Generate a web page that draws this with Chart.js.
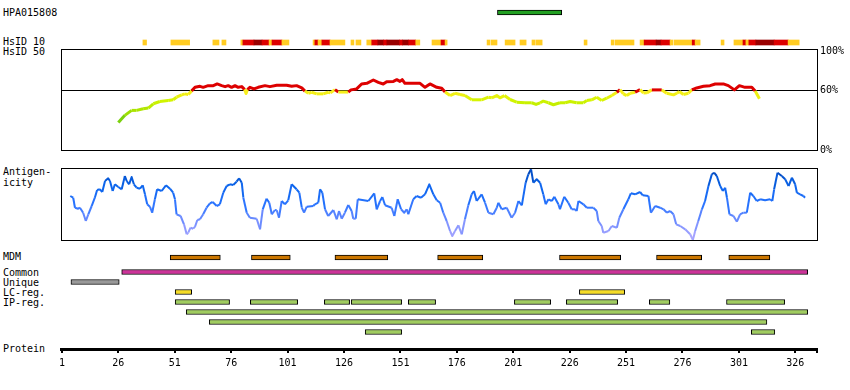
<!DOCTYPE html>
<html><head><meta charset="utf-8">
<script src="https://cdn.jsdelivr.net/npm/chart.js@4.4.1/dist/chart.umd.min.js"></script>
<style>
html,body{margin:0;padding:0;background:#fff;}
body{width:850px;height:390px;position:relative;overflow:hidden;}
canvas{position:absolute;left:0;}
.lbl{position:absolute;left:3px;font:10px/12px "DejaVu Sans Mono",monospace;color:#000;white-space:pre;}
</style></head><body>
<div class="lbl" style="top:7px">HPA015808</div>
<div class="lbl" style="top:36px">HsID 10</div>
<div class="lbl" style="top:46px">HsID 50</div>
<div class="lbl" style="top:166px">Antigen-</div>
<div class="lbl" style="top:177px">icity</div>
<div class="lbl" style="top:251px">MDM</div>
<div class="lbl" style="top:267px">Common</div>
<div class="lbl" style="top:277px">Unique</div>
<div class="lbl" style="top:287px">LC-reg.</div>
<div class="lbl" style="top:297px">IP-reg.</div>
<div class="lbl" style="top:343px">Protein</div>

<canvas id="cHpa" width="850" height="11" style="top:7px"></canvas>
<canvas id="cHs" width="850" height="11" style="top:37px"></canvas>
<canvas id="cId" width="850" height="120" style="top:40px"></canvas>
<canvas id="cAg" width="850" height="80" style="top:164px"></canvas>
<canvas id="cMdm" width="850" height="11" style="top:252px"></canvas>
<canvas id="cFeat" width="850" height="70" style="top:267px"></canvas>
<canvas id="cAxis" width="850" height="90" style="top:300px"></canvas>
<script>
// ---------- data ----------
const xMin = 0.6, xMax = 335.6;
const axisTicks = [1, 26, 51, 76, 101, 126, 151, 176, 201, 226, 251, 276, 301, 326];
const identTicks = [0, 60, 100];
const identRef = 60;

const hpaName = 'HPA015808';
const hpaRange = [194, 222.5];

// HsID 10 blocks: level 0 = yellow, 1 = red, 2 = dark red
const hsStart = [36.9,49.3,67.9,71.9,80.3,81.2,86.1,89.7,92.8,94.1,98.5,112.3,113.1,114.5,116.2,119.8,129.1,131.3,136.1,138.3,141,143.6,145,150.7,152,154.7,157.8,165,169,170.8,189.4,191.2,197.4,204,209.3,211.1,232.4,244.4,246.2,257.2,259,264.3,266.5,270.5,272.3,280.3,281.6,293.1,298.8,302.8,304.1,305.4,308.5,316.6,322.8];
const hsEnd   = [38.5,57.6,70.6,73.7,81.2,86.1,89.7,92.8,94.1,98.5,101.6,113.1,114.5,116.2,119.8,126.4,130.4,133.5,138.3,141,143.6,145,150.7,152,154.7,157.8,159.6,169,170.8,171.7,190.7,193.8,201.8,206.7,210.7,213.8,233.7,245.7,254.5,259,264.3,266.5,270.5,271.8,280.3,281.6,283.8,294.4,302.8,304.1,305.4,308.5,316.6,322.8,327.7];
const hsLevel = [0,0,0,0,0,1,2,1,0,1,0,0,1,0,1,0,0,0,0,1,2,1,2,1,2,1,0,0,1,0,0,0,0,0,0,0,0,0,0,0,1,2,1,0,0,1,0,0,0,1,0,1,2,1,0];

// HsID 50 identity (%)
const idPos = [26,28.9,31.9,34.1,37,39.3,41.5,44.4,48.1,50.3,51.8,54.1,55.5,57,58.5,60,62.2,63.6,65.8,68.1,69.8,71.8,73.3,74.7,76.2,77.7,79.1,80.7,82,82.6,83.2,84.3,86.1,88,91,93.2,96.2,100.6,102.8,105,107.3,108.7,110.2,111.7,113.9,116.8,119,120,122,123.5,127.9,129.1,131.6,133.8,136.1,139,141.2,143.4,144.9,147.9,149.4,150.8,151.8,153,156,159.7,161.9,164.1,167.1,169.3,170.8,173,175.2,177.4,179.6,182.6,187,190,191.5,193.7,195.1,197.1,199.6,202.5,206.2,209.2,211.1,212.9,214.3,216.6,218.8,221.7,224,226.2,229.1,232.1,233.6,235.8,238,240.2,242.4,244.7,246.9,248.3,249.8,251.3,252.8,255,257.2,258.7,260.2,262.4,266.8,269,272,273.5,274.6,276.4,278.6,280.1,282.3,285.3,288.2,290.5,294.1,296.3,299,301.2,303.7,306.7,308.2,310.1];
const idVal = [27.7,35,40,40,41.7,42.3,46.7,49,50,50.7,53.3,55.7,56.7,56,59.7,63.3,64.3,63.3,65,65,66.7,65,64,65,63.3,65,63.3,64,61,57,61,63.3,61.7,63.3,65,64,65.3,65.3,64.3,65,62.7,59.5,57.3,58.3,56.7,56.7,58.3,57.7,61,58.5,58.5,60.7,61.7,66.7,67.3,70.7,68.3,66.7,69,69.3,71,69.3,71,67.3,67.3,67.3,63.3,66.7,63.3,62.3,58.5,55,57.3,56,55,50.7,50.7,53.3,52.7,55,52.7,55,51,48.3,47.7,47.7,46,47.7,49.3,47.7,45.7,47.7,47.7,49,47.7,47.7,50,50.7,53.3,50,52.3,55,58.3,61,56.7,55,57.3,58.3,61,57.5,57.7,60.7,60.7,57.3,55.7,57.3,59,56,57.3,60.7,62.7,64.3,65,66.7,66.7,65,60.7,65,63.3,63.3,59.5,51.7];

// Antigenicity
const agPos = [4.7,6.0,6.8,8.2,9.0,10.4,11.6,12.7,14.2,15.6,16.6,17.8,18.9,20.1,21.5,22.3,23.5,24.5,26,27.5,
  28.9,29.7,30.8,31.9,32.9,34.1,35.6,36.8,37.8,38.8,40,41,42.2,43.2,45.2,47.1,48.9,50.3,51.1,51.8,
  53.6,55.1,56.3,57,58,59.2,60,61,62.2,63.6,65.1,66.6,67.8,69.6,71,72.5,74,75.5,76.9,78.4,
  79.5,80.7,81.4,82.9,84.3,87.3,88.8,90,91.7,92.9,94,95.4,96.2,97.2,98.4,99.8,101.3,102.8,105,106.2,
  107.3,108.3,109.5,112.4,113.1,114.6,115.4,116.4,117.6,119,121.3,122.8,123.8,125,126.4,127.9,129.4,130.1,131.2,132.1,
  136.8,139.4,140.5,142,143,144.2,147.1,148.3,149.8,151.3,152.7,153.8,154.5,156.7,158.2,160.1,161.9,163.8,165.6,167.1,
  168.6,170,171.5,173,174,175.2,176.7,178.2,179.6,181.1,182.6,183.6,184.8,187,188.5,190,192.2,193.7,194.4,195.9,
  198.1,200.3,201.8,203.3,204.8,206.5,207.7,208.9,209.9,211.4,212.9,214.3,215.4,216.6,218.1,219.2,221,221.7,223.6,225.4,
  226.9,228.4,229.1,229.9,232.1,233.6,236.5,238,238.7,240.2,240.9,243.2,244.7,246.9,248,249.8,252,253.1,255,257.2,
  258.4,260.9,262,263.9,266.1,267.6,269.1,270.5,272,273.2,275,277.2,279.4,280.6,281.6,283,284.6,286,287.5,289,
  290,291.2,292.7,293.9,294.9,295.7,296.8,298.6,300.1,301.5,303,304.5,306,307.4,308.9,310.4,312.6,314.8,315.8,316.6,
  318.1,320,321.5,323,324.5,325.9,326.7,328.1,329.6,330.3];
const agVal = [44,42.3,32.3,31.3,32.3,27.3,19,25.7,34,42.3,50,50.7,48,59,61.7,59,49,55.7,53,50.7,
  64,59,55.7,63,55.7,52.3,51.3,54.7,45.7,35.7,33.3,27.3,40.7,50.7,49,54.7,51.3,47.3,40.7,25.7,
  24,15.7,5.7,7.3,12.3,11.3,13.3,20,20.7,25.7,32.3,36.7,38,34,35.7,47.3,54,55.7,55,58.3,
  61.7,57.3,42.3,27.3,22.3,21.3,10.7,30.7,41.3,37.3,25.7,30,29.7,22.3,39,35.7,39.7,55.7,50.7,47.3,
  32.3,27.3,33.3,34,35.7,37.3,50.7,47.3,30.7,24,30,20.7,29,21.3,27.3,35,29,21.3,21.3,40.7,
  39,46.7,30.7,39,43,34.7,32.3,24,40.7,30.7,27.3,30.7,25.7,40.7,44,42.3,45.7,55.7,45.7,39.7,
  37.3,27.3,19,9,4,9,14.7,5.7,20.7,34.7,45.7,49,39,45.7,37.3,27.3,25.7,32.3,37.3,30.7,
  32.3,22.3,27.3,39,34.7,57.3,65.7,70.7,57.3,60.7,57.3,45.7,35.7,40.7,39,43.3,35.7,30.7,43.3,37.3,
  30.7,30.7,29,39,35.7,32.3,32.3,29,19,14,7.3,9,14,12.3,22.3,30.7,40.7,46.7,45.7,48,
  44.7,44,27.3,34,32.3,30.7,27.3,29,25.7,15.7,14,10.7,5.7,0,9,19,30.7,39,54,65.7,
  67.3,64,54,49,52.3,42.3,25.7,24,18.3,25.7,27.3,27.3,47.3,44,39,40.7,39.7,40.7,39,50.7,
  67.3,64,60.7,54,62.3,55.7,47.3,45.7,44,42.3];

// Feature tracks (residue ranges)
const mdmStart = [49, 85, 122, 167.5, 221.5, 264.5, 296.5];
const mdmEnd   = [71.2, 102.2, 145.4, 187.5, 248.6, 284.5, 314.7];
const commonRange = [27.5, 331.5];
const uniqueRange = [5, 26.4];
const lcStart = [51.2, 230.3];
const lcEnd   = [58.5, 250.4];
const ipRow   = [1,1,1,1,1,1,1,1,1,2,3,4,4];
const ipStart = [51.2,84.5,117.3,129.2,154.5,201.5,224.5,261.3,295.5,56.1,66.3,135.4,306.5];
const ipEnd   = [75.3,105.5,128.5,151.6,166.6,217.6,247.3,270.4,321.3,331.5,313.4,151.6,316.9];
const featRows = ['Common','Unique','LC-reg.','IP-reg. 1','IP-reg. 2','IP-reg. 3','IP-reg. 4'];

// ---------- styles ----------
const FONT = '"DejaVu Sans Mono", monospace';
Chart.defaults.font.family = FONT;
Chart.defaults.font.size = 10;
Chart.defaults.color = '#000';
const hsColors = ['#ffcc22', '#dd0000', '#990000'];

function lerpColor(stops, v) {
  if (v <= stops[0][0]) return 'rgb(' + stops[0][1].join(',') + ')';
  for (let i = 1; i < stops.length; i++) {
    if (v <= stops[i][0]) {
      const a = stops[i-1], b = stops[i];
      const t = (v - a[0]) / (b[0] - a[0]);
      const c = a[1].map((x, k) => Math.round(x + (b[1][k] - x) * t));
      return 'rgb(' + c.join(',') + ')';
    }
  }
  return 'rgb(' + stops[stops.length-1][1].join(',') + ')';
}
const idStops = [[27,[100,200,20]],[40,[170,228,0]],[50,[210,245,0]],[56,[240,240,20]],[59.5,[248,238,30]]];
function idColor(v) { return v >= 59.5 ? '#dd0000' : lerpColor(idStops, v); }
const agStops = [[0,[180,170,255]],[20,[110,140,255]],[36,[40,115,255]],[55,[10,100,235]],[72,[0,65,175]]];
function agColor(v) { return lerpColor(agStops, v); }

const boxPlugin = {
  id: 'box',
  beforeDatasetsDraw(chart) {
    const a = chart.chartArea, ctx = chart.ctx;
    ctx.save();
    ctx.strokeStyle = '#000';
    ctx.lineWidth = 1;
    ctx.strokeRect(Math.round(a.left) + 0.5, Math.round(a.top) + 0.5, Math.round(a.right - a.left), Math.round(a.bottom - a.top));
    ctx.restore();
  }
};

function baseOpts(padding) {
  return {
    responsive: false, animation: false, devicePixelRatio: 1, events: [],
    layout: { padding },
    plugins: { legend: { display: false }, tooltip: { enabled: false } }
  };
}
const hiddenX = () => ({ type: 'linear', min: xMin, max: xMax, display: false });

function spans(row, starts, ends) { return starts.map((s, i) => ({ y: row, x: [s, ends[i]] })); }

function rowChart(id, rows, datasets, thickness) {
  const opts = baseOpts({ left: 61, right: 33, top: 0, bottom: 0 });
  opts.indexAxis = 'y';
  opts.scales = { x: hiddenX(), y: { type: 'category', display: false } };
  new Chart(document.getElementById(id), {
    type: 'bar',
    data: {
      labels: rows,
      datasets: datasets.map(d => Object.assign({
        barThickness: thickness, grouped: false, borderSkipped: false,
        borderColor: '#000', borderWidth: 1
      }, d))
    },
    options: opts
  });
}

// HPA antigen bar
rowChart('cHpa', [hpaName], [{ data: [{ y: hpaName, x: hpaRange }], backgroundColor: '#22a022' }], 5);
// HsID 10
rowChart('cHs', ['HsID 10'], [{
  data: spans('HsID 10', hsStart, hsEnd),
  backgroundColor: hsLevel.map(l => hsColors[l]), borderWidth: 0
}], 5);
// MDM
rowChart('cMdm', ['MDM'], [{ data: spans('MDM', mdmStart, mdmEnd), backgroundColor: '#cc7700' }], 5);
// Features
rowChart('cFeat', featRows, [
  { data: [{ y: 'Common', x: commonRange }], backgroundColor: '#cc3399' },
  { data: [{ y: 'Unique', x: uniqueRange }], backgroundColor: '#999999' },
  { data: spans('LC-reg.', lcStart, lcEnd), backgroundColor: '#f5dc28' },
  { data: ipStart.map((s, i) => ({ y: 'IP-reg. ' + ipRow[i], x: [s, ipEnd[i]] })), backgroundColor: '#a0cc60' }
], 5);

// Identity line chart
(function () {
  const opts = baseOpts({ left: 61, right: 0, top: 8, bottom: 10 });
  opts.scales = {
    x: hiddenX(),
    y: {
      type: 'linear', position: 'right', min: 0, max: 102,
      afterBuildTicks: s => { s.ticks = identTicks.map(v => ({ value: v })); },
      afterFit: s => { s.width = 33; },
      border: { display: false },
      grid: {
        drawTicks: false, lineWidth: 1,
        color: c => (c.tick && c.tick.value === identRef) ? '#000' : 'rgba(0,0,0,0)'
      },
      ticks: { padding: 3, color: '#000', callback: v => v + '%' }
    }
  };
  new Chart(document.getElementById('cId'), {
    type: 'line',
    data: { datasets: [{
      data: idPos.map((p, i) => ({ x: p, y: idVal[i] })),
      borderColor: '#dd0000', borderWidth: 3, pointRadius: 0, tension: 0,
      borderJoinStyle: 'round',
      segment: { borderColor: c => idColor((c.p0.parsed.y + c.p1.parsed.y) / 2) }
    }] },
    options: opts,
    plugins: [boxPlugin]
  });
})();

// Antigenicity line chart
(function () {
  const opts = baseOpts({ left: 61, right: 33, top: 4, bottom: 4 });
  opts.scales = { x: hiddenX(), y: { type: 'linear', min: 0, max: 72, display: false } };
  new Chart(document.getElementById('cAg'), {
    type: 'line',
    data: { datasets: [{
      data: agPos.map((p, i) => ({ x: p, y: agVal[i] })),
      borderColor: '#2a70ff', borderWidth: 2, pointRadius: 0, tension: 0,
      borderJoinStyle: 'round',
      segment: { borderColor: c => agColor((c.p0.parsed.y + c.p1.parsed.y) / 2) }
    }] },
    options: opts,
    plugins: [boxPlugin]
  });
})();

// Protein axis
(function () {
  const opts = baseOpts({ left: 61, right: 33, top: 10, bottom: 0 });
  opts.scales = {
    x: {
      type: 'linear', position: 'bottom', min: xMin, max: xMax,
      afterBuildTicks: s => { s.ticks = axisTicks.concat([xMax]).map(v => ({ value: v })); },
      afterFit: s => { s.height = 41; },
      border: { display: true, color: '#000', width: 3 },
      grid: { drawOnChartArea: false, drawTicks: true, tickLength: 4, tickColor: '#000', lineWidth: 2 },
      ticks: { autoSkip: false, maxRotation: 0, minRotation: 0, padding: 4, color: '#000',
        callback: v => axisTicks.includes(v) ? String(v) : '' }
    },
    y: { type: 'linear', display: false, min: 0, max: 1 }
  };
  new Chart(document.getElementById('cAxis'), {
    type: 'line',
    data: { datasets: [] },
    options: opts
  });
})();
</script>
</body></html>
